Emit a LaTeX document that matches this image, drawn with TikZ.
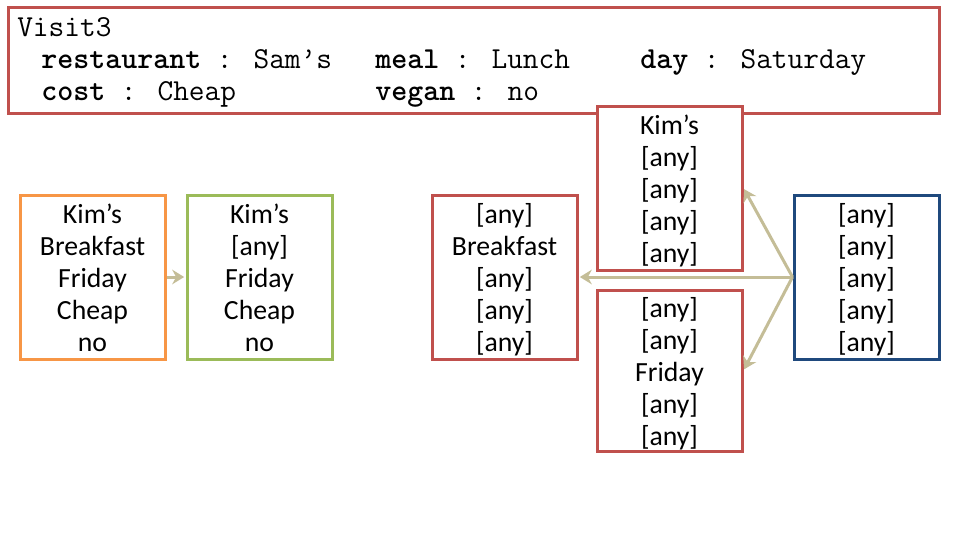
\documentclass[tikz,border=0pt]{standalone}
\usepackage{fontspec}
\setmainfont{Carlito}
\usepackage{xcolor}
\usetikzlibrary{arrows.meta,positioning}

\definecolor{boxred}{HTML}{C0504D}
\definecolor{boxorange}{HTML}{F79646}
\definecolor{boxgreen}{HTML}{9BBB59}
\definecolor{boxblue}{HTML}{1F497D}
\definecolor{arrowtan}{HTML}{C4BD97}

\begin{document}
\begin{tikzpicture}[x=0.75pt, y=-0.75pt,
    visit_box/.style={rectangle, draw=boxred, fill=white, line width=2.25pt, minimum width=698.25pt, minimum height=79.5pt, inner sep=0pt},
    code_text/.style={anchor=base west, inner sep=0pt, font=\ttfamily\fontsize{22.86}{24}\selectfont},
    case_box/.style={rectangle, fill=white, line width=2.25pt, minimum width=108.75pt, minimum height=123pt, align=center, inner sep=0pt, font=\fontsize{20.8}{24}\selectfont, text height=112pt, text depth=0pt},
    match_arrow/.style={-{Stealth[length=9pt, width=11pt, inset=3pt]}, draw=arrowtan, line width=2.25pt, shorten >=1pt}
]
\useasboundingbox (0,0) rectangle (960,540);

% Top: the visit being matched
\node[visit_box] (visit) at (473.5,60) {};
\node[code_text] (visitname) at (17,36.5) {Visit3};
\node[code_text] (restaurant) at (41,68.5) {\textbf{restaurant} : Sam’s};
\node[code_text] (meal) at (375,68.5) {\textbf{meal} : Lunch};
\node[code_text] (day) at (640,68.5) {\textbf{day} : Saturday};
\node[code_text] (cost) at (41,100.5) {\textbf{cost} : Cheap};
\node[code_text] (vegan) at (375,100.5) {\textbf{vegan} : no};

% Left: case and its generalisation
\node[case_box, draw=boxorange] (kimcase) at (92.5,277) {Kim’s\\Breakfast\\Friday\\Cheap\\no};
\node[case_box, draw=boxgreen] (kimgeneral) at (259.5,277) {Kim’s\\{[any]}\\Friday\\Cheap\\no};

% Right: most general case and its specialisations
\node[case_box, draw=boxblue] (anycase) at (866.5,277) {{[any]}\\{[any]}\\{[any]}\\{[any]}\\{[any]}};
\node[case_box, draw=boxred] (breakfast) at (504.5,277) {{[any]}\\Breakfast\\{[any]}\\{[any]}\\{[any]}};
\node[case_box, draw=boxred] (kims) at (669.5,188) {Kim’s\\{[any]}\\{[any]}\\{[any]}\\{[any]}};
\node[case_box, draw=boxred, minimum height=120.75pt] (friday) at (669.5,370.5) {{[any]}\\{[any]}\\Friday\\{[any]}\\{[any]}};

% Flow: generalise
\draw[match_arrow] (kimcase.east) -- (kimgeneral.west);

% Flow: specialise
\draw[match_arrow] (anycase.west) -- (breakfast.east);
\draw[match_arrow] (anycase.west) -- (kims.east);
\draw[match_arrow] (anycase.west) -- (friday.east);

\end{tikzpicture}
\end{document}
